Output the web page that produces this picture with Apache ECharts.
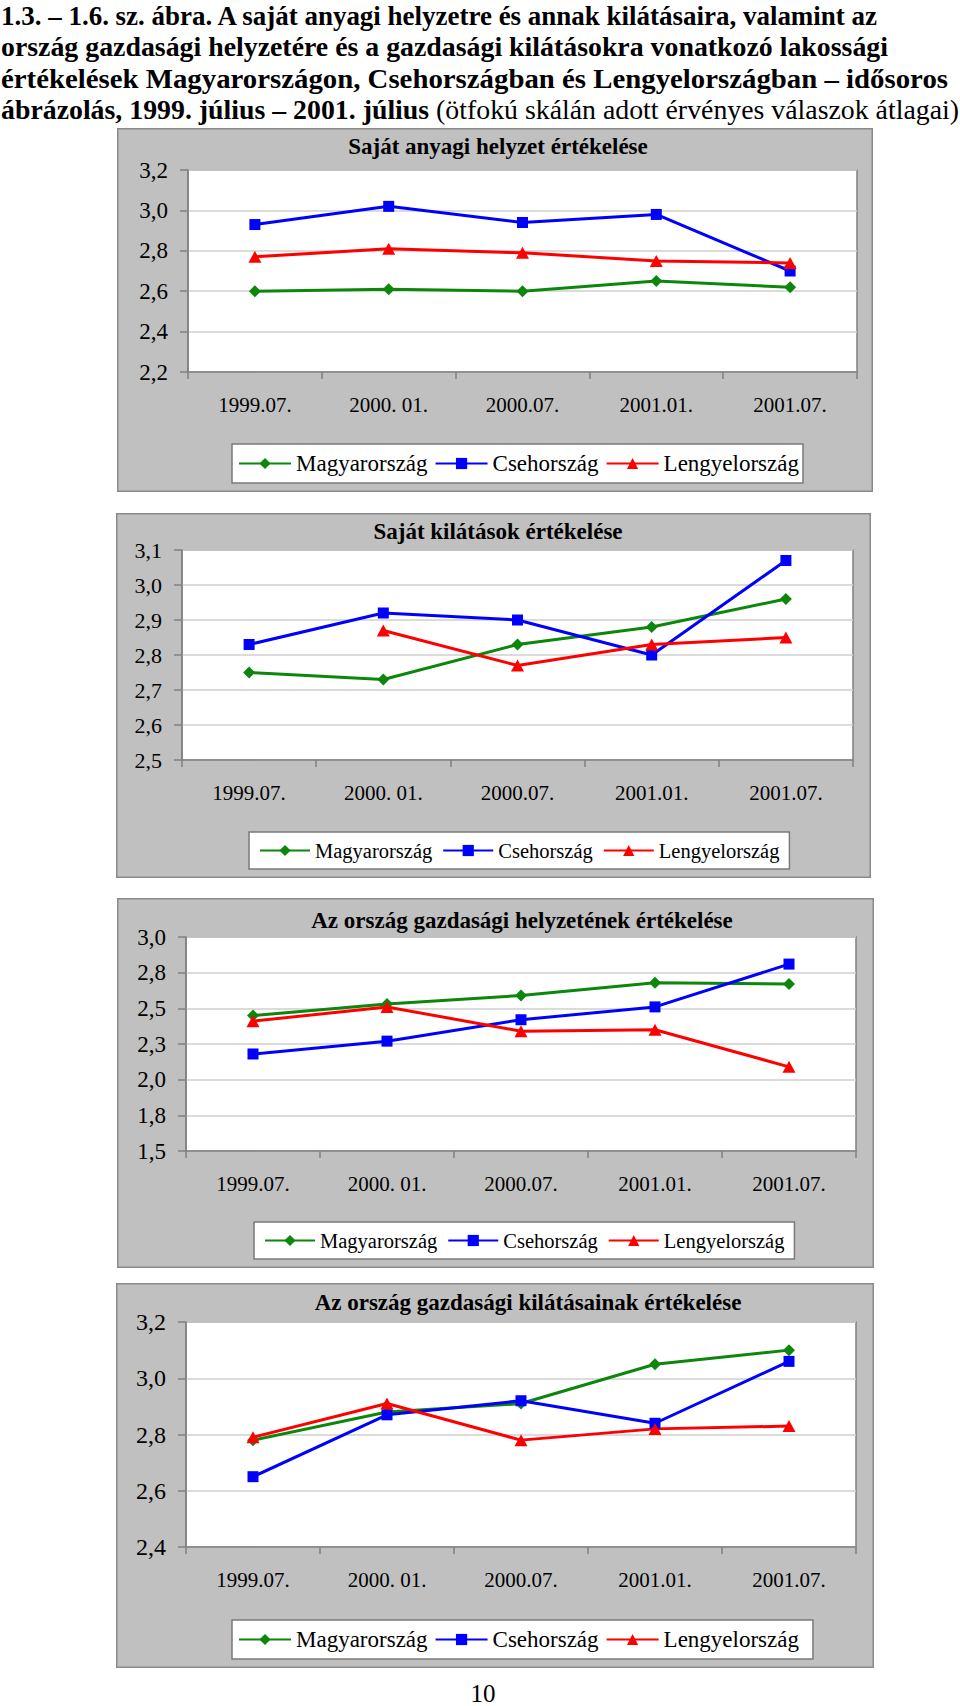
<!DOCTYPE html>
<html>
<head>
<meta charset="utf-8">
<script src="https://cdn.jsdelivr.net/npm/echarts@6/dist/echarts.min.js"></script>
<style>
html, body { margin:0; padding:0; background:#fff; width:960px; height:1706px; overflow:hidden; position:relative;
  font-family:'Liberation Serif','Times New Roman',serif; color:#000; }
#head { position:absolute; left:1px; top:0; font-size:28px; line-height:31.3px; font-weight:bold; white-space:nowrap;
  font-family:'Liberation Serif','Times New Roman',serif; }
#head .ln { display:block; }
#head .ln span.in { display:inline-block; transform-origin:0 50%; }
#head .n { font-weight:normal; font-family:'Liberation Serif','Times New Roman',serif; }
.panel { position:absolute; background:#c0c0c0; box-shadow: inset 0 0 0 1.5px #8a8a8a; }
.panel .c { position:absolute; left:0; top:0; width:100%; height:100%; }
#pg { position:absolute; left:433px; width:100px; top:1679px; text-align:center; font-size:25px; line-height:30px; }
</style>
</head>
<body>
<div id="head">
<div class="ln"><span class="in" data-w="876">1.3. – 1.6. sz. ábra. A saját anyagi helyzetre és annak kilátásaira, valamint az</span></div>
<div class="ln"><span class="in" data-w="887">ország gazdasági helyzetére és a gazdasági kilátásokra vonatkozó lakossági</span></div>
<div class="ln"><span class="in" data-w="947">értékelések Magyarországon, Csehországban és Lengyelországban – idősoros</span></div>
<div class="ln"><span class="in" data-w="958">ábrázolás, 1999. július – 2001. július <span class="n">(ötfokú skálán adott érvényes válaszok átlagai)</span></span></div>
</div>

<div class="panel" style="left:117px;top:128px;width:756px;height:364px;"><div class="c" id="c1"></div></div>
<div class="panel" style="left:116px;top:513px;width:755px;height:365px;"><div class="c" id="c2"></div></div>
<div class="panel" style="left:117px;top:898px;width:757px;height:370px;"><div class="c" id="c3"></div></div>
<div class="panel" style="left:116px;top:1283px;width:758px;height:385px;"><div class="c" id="c4"></div></div>
<div id="pg">10</div>

<script>
// ---- data ----
const categories = ['1999.07.', '2000. 01.', '2000.07.', '2001.01.', '2001.07.'];
const seriesNames = ['Magyarország', 'Csehország', 'Lengyelország'];

const title1 = 'Saját anyagi helyzet értékelése';
const c1Hu = [2.60, 2.61, 2.60, 2.65, 2.62];
const c1Cz = [2.93, 3.02, 2.94, 2.98, 2.70];
const c1Pl = [2.77, 2.81, 2.79, 2.75, 2.74];
const c1Ticks = ['2,2', '2,4', '2,6', '2,8', '3,0', '3,2'];

const title2 = 'Saját kilátások értékelése';
const c2Hu = [2.75, 2.73, 2.83, 2.88, 2.96];
const c2Cz = [2.83, 2.92, 2.90, 2.80, 3.07];
const c2Pl = [null, 2.87, 2.77, 2.83, 2.85];
const c2Ticks = ['2,5', '2,6', '2,7', '2,8', '2,9', '3,0', '3,1'];

const title3 = 'Az ország gazdasági helyzetének értékelése';
const c3Hu = [2.45, 2.53, 2.59, 2.68, 2.67];
const c3Cz = [2.18, 2.27, 2.42, 2.51, 2.81];
const c3Pl = [2.41, 2.51, 2.34, 2.35, 2.09];
const c3Ticks = ['1,5', '1,8', '2,0', '2,3', '2,5', '2,8', '3,0'];

const title4 = 'Az ország gazdasági kilátásainak értékelése';
const c4Hu = [2.78, 2.88, 2.91, 3.05, 3.10];
const c4Cz = [2.65, 2.87, 2.92, 2.84, 3.06];
const c4Pl = [2.79, 2.91, 2.78, 2.82, 2.83];
const c4Ticks = ['2,4', '2,6', '2,8', '3,0', '3,2'];

// ---- heading line fitting ----
document.querySelectorAll('#head .in').forEach(el => {
  const w = el.getBoundingClientRect().width;
  const target = parseFloat(el.getAttribute('data-w'));
  if (w > 0) el.style.transform = 'scaleX(' + (target / w) + ')';
});

// ---- rendering ----
const FONT = "'Liberation Serif','Times New Roman',serif";
const COLORS = ['#0c870c', '#0000ff', '#ff0000'];
const SYMBOLS = ['diamond', 'rect', 'triangle'];
const SYMSIZE = [[12, 12], [11, 11], [13, 12]];

function makeOption(cfg) {
  const vals = [cfg.hu, cfg.cz, cfg.pl];
  return {
    animation: false,
    backgroundColor: 'transparent',
    textStyle: { fontFamily: FONT },
    graphic: [{
      type: 'text', x: cfg.titleX, y: cfg.titleY,
      style: { text: cfg.title, font: 'bold 23px ' + FONT, fill: '#000', align: 'center', verticalAlign: 'middle' }
    }],
    grid: { left: cfg.grid[0], top: cfg.grid[1], width: cfg.grid[2], height: cfg.grid[3],
      show: true, backgroundColor: '#fff', borderColor: '#808080', borderWidth: 1.5 },
    legend: {
      left: cfg.legend[0], top: cfg.legend[1], padding: cfg.legendPad,
      backgroundColor: '#fff', borderColor: '#7a7a7a', borderWidth: 1.5,
      itemWidth: cfg.legendItemW, itemHeight: 14, itemGap: cfg.legendGap,
      textStyle: { fontFamily: FONT, fontSize: cfg.legendFont, color: '#000' },
      data: seriesNames
    },
    xAxis: {
      type: 'category', data: categories, boundaryGap: true,
      axisLine: { lineStyle: { color: '#808080', width: 1.5 } },
      axisTick: { show: true, length: 7, lineStyle: { color: '#808080', width: 1.5 } },
      axisLabel: { interval: 0, color: '#000', fontFamily: FONT, fontSize: 21, margin: 22 }
    },
    yAxis: {
      type: 'value', min: cfg.min, max: cfg.max, interval: cfg.interval,
      axisLine: { show: true, lineStyle: { color: '#808080', width: 1.5 } },
      axisTick: { show: true, length: 8, lineStyle: { color: '#808080', width: 1.5 } },
      axisLabel: { color: '#000', fontFamily: FONT, fontSize: cfg.yFont, margin: 20,
        formatter: v => cfg.ticks[Math.round((v - cfg.min) / cfg.interval)] },
      splitLine: { show: true, lineStyle: { color: '#cfcfcf', width: 1.5 } }
    },
    series: seriesNames.map((name, i) => ({
      name, type: 'line', data: vals[i],
      symbol: SYMBOLS[i], symbolSize: SYMSIZE[i], showAllSymbol: true,
      lineStyle: { color: COLORS[i], width: 3 },
      itemStyle: { color: COLORS[i] },
      connectNulls: false
    }))
  };
}

const configs = [
  { id: 'c1', title: title1, titleX: 381, titleY: 18, hu: c1Hu, cz: c1Cz, pl: c1Pl, ticks: c1Ticks,
    min: 2.2, max: 3.2, interval: 0.2, grid: [71, 42, 669, 202], legend: [115, 316],
    legendPad: [8, 4, 8, 6], legendItemW: 52, legendGap: 7, legendFont: 23, yFont: 23 },
  { id: 'c2', title: title2, titleX: 382, titleY: 18, hu: c2Hu, cz: c2Cz, pl: c2Pl, ticks: c2Ticks,
    min: 2.5, max: 3.1, interval: 0.1, grid: [66, 37, 671, 210], legend: [133, 319],
    legendPad: [8, 10], legendItemW: 50, legendGap: 10, legendFont: 20.5, yFont: 22 },
  { id: 'c3', title: title3, titleX: 405, titleY: 22, hu: c3Hu, cz: c3Cz, pl: c3Pl, ticks: c3Ticks,
    min: 1.5, max: 3.0, interval: 0.25, grid: [69, 39, 670, 214], legend: [137, 324],
    legendPad: [8, 10], legendItemW: 50, legendGap: 10, legendFont: 20.5, yFont: 23 },
  { id: 'c4', title: title4, titleX: 412, titleY: 19, hu: c4Hu, cz: c4Cz, pl: c4Pl, ticks: c4Ticks,
    min: 2.4, max: 3.2, interval: 0.2, grid: [70, 39, 670, 225], legend: [116, 337],
    legendPad: [8, 14, 8, 6], legendItemW: 52, legendGap: 7, legendFont: 23, yFont: 24 }
];

configs.forEach(cfg => {
  const chart = echarts.init(document.getElementById(cfg.id), null, { renderer: 'svg' });
  chart.setOption(makeOption(cfg));
});
</script>
</body>
</html>
